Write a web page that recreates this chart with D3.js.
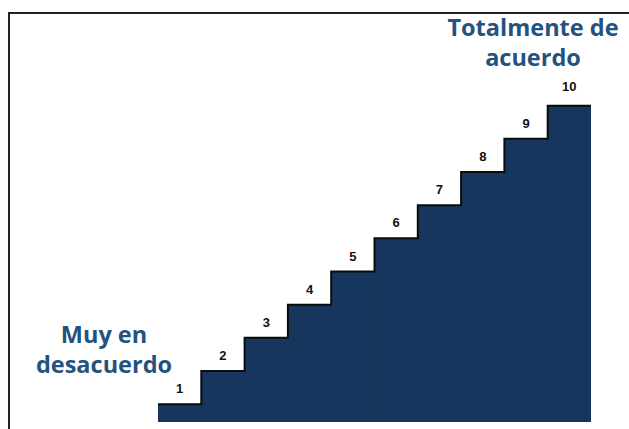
<!DOCTYPE html>
<html>
<head>
<meta charset="utf-8">
<script src="https://cdn.jsdelivr.net/npm/d3@7"></script>
<style>
  html, body { margin: 0; padding: 0; background: #fff; }
  svg { display: block; }
</style>
</head>
<body>
<svg id="chart" width="629" height="429"></svg>
<script>
const categories = ["1", "2", "3", "4", "5", "6", "7", "8", "9", "10"];
const values = [1, 2, 3, 4, 5, 6, 7, 8, 9, 10];
const lowLabel = ["Muy en", "desacuerdo"];
const highLabel = ["Totalmente de", "acuerdo"];

const svg = d3.select("#chart");
const W = 629, H = 429;

// frame (left and top borders)
svg.append("path")
  .attr("d", `M9,${H} L9,13 L${W},13`)
  .attr("fill", "none")
  .attr("stroke", "#222")
  .attr("stroke-width", 2);

const x = d3.scaleBand().domain(categories).range([158, 591]).padding(0);
const y = d3.scaleLinear().domain([0, 10]).range([437.3, 105.7]);
const bottom = 422;

const data = categories.map((c, i) => ({ c, v: values[i] }));

svg.append("g").selectAll("rect")
  .data(data)
  .join("rect")
  .attr("x", d => x(d.c))
  .attr("width", d => x.bandwidth() + (d.v < 10 ? 1.5 : 0))
  .attr("y", d => y(d.v))
  .attr("height", d => bottom - y(d.v))
  .attr("fill", "#17365d");

// stair outline (treads and risers)
const pts = [];
data.forEach((d, i) => {
  pts.push([x(d.c), y(d.v)]);
  pts.push([x(d.c) + x.bandwidth(), y(d.v)]);
  if (i < data.length - 1) pts.push([x(d.c) + x.bandwidth(), y(data[i + 1].v)]);
});
svg.append("path")
  .attr("d", d3.line()(pts))
  .attr("fill", "none")
  .attr("stroke", "#0b0b0b")
  .attr("stroke-width", 2)
  .attr("stroke-linejoin", "miter");

// step number labels
svg.append("g").selectAll("text")
  .data(data)
  .join("text")
  .attr("x", d => x(d.c) + x.bandwidth() / 2)
  .attr("y", d => y(d.v) - (d.v === 10 ? 15 : 11))
  .attr("text-anchor", "middle")
  .attr("font-family", "Liberation Sans, Arial, sans-serif")
  .attr("font-weight", "bold")
  .attr("font-size", 13)
  .attr("fill", "#111")
  .text(d => d.c);

// end labels
function block(lines, cx, baseline) {
  svg.append("g").selectAll("text")
    .data(lines)
    .join("text")
    .attr("x", cx)
    .attr("y", (d, i) => baseline + i * 30)
    .attr("text-anchor", "middle")
    .attr("font-family", "Open Sans, sans-serif")
    .attr("font-weight", "bold")
    .attr("font-size", 23.5)
    .attr("fill", "#24527f")
    .text(d => d);
}
block(lowLabel, 104, 343);
block(highLabel, 533, 36);
</script>
</body>
</html>
